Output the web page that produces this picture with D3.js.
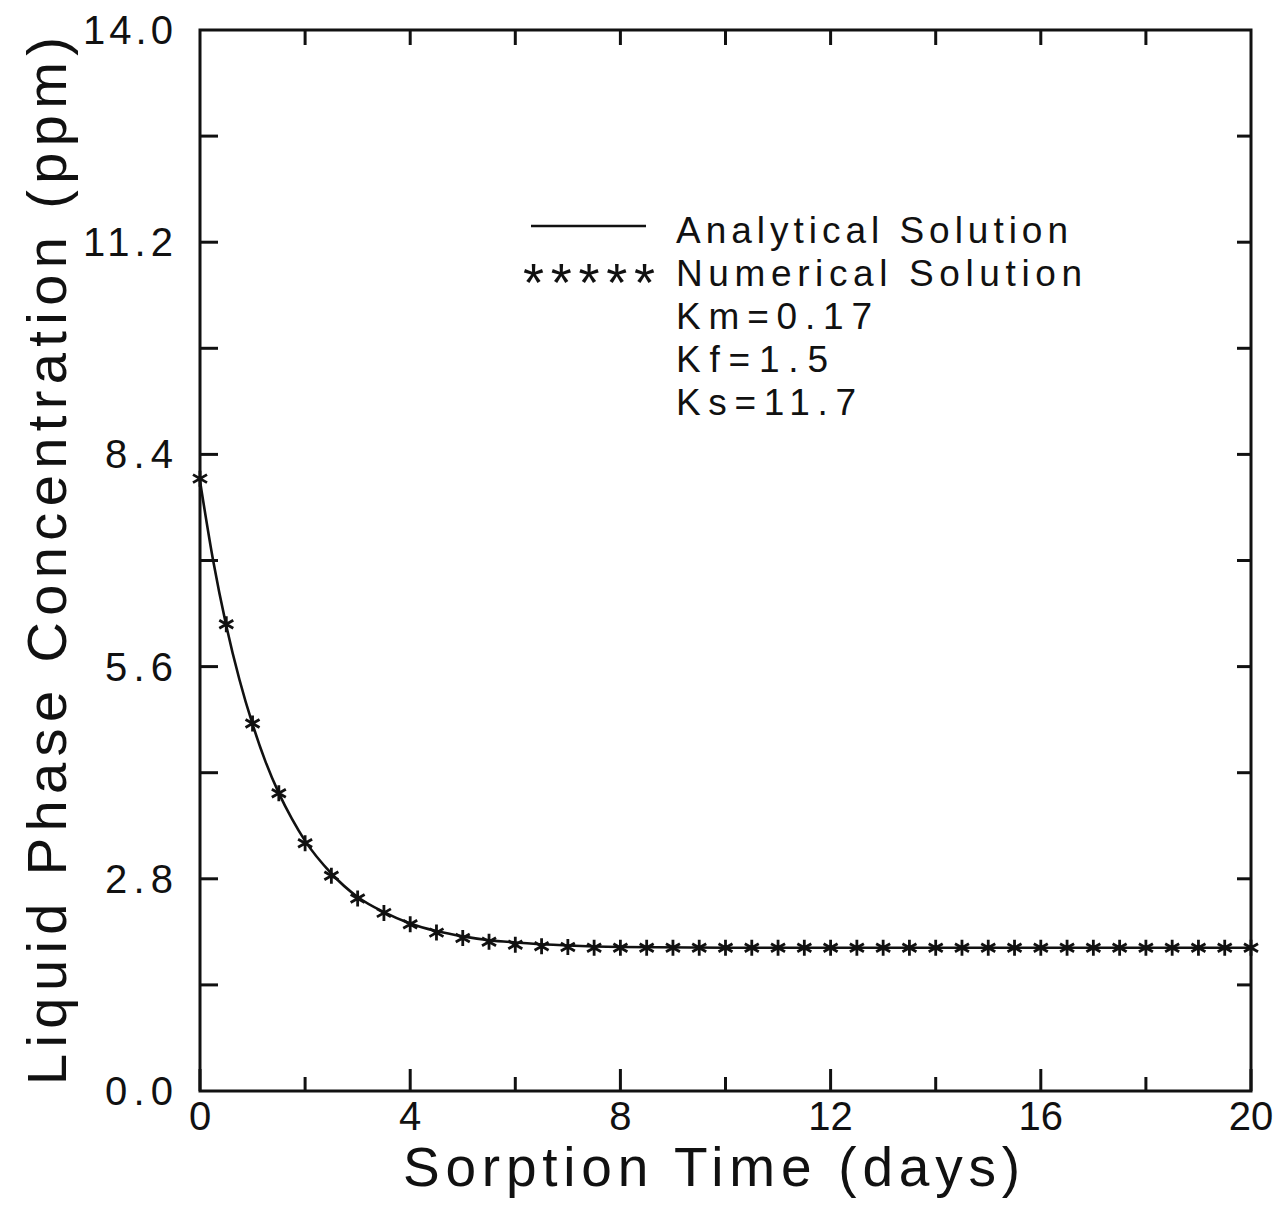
<!DOCTYPE html>
<html><head><meta charset="utf-8">
<script src="https://cdn.jsdelivr.net/npm/d3@7"></script>
<style>body{margin:0;background:#fff}svg{display:block}text{font-family:"Liberation Sans",Arial,sans-serif;fill:#111}</style>
</head><body>
<svg id="c" width="1279" height="1211"></svg>
<script>
// Analytical solution (line)
const analyticT = [0,0.25,0.5,0.75,1,1.25,1.5,1.75,2,2.5,3,3.5,4,4.5,5,5.5,6,7,8,10,14,20];
const analyticC = [8.05,7.00,6.14,5.43,4.84,4.34,3.93,3.59,3.30,2.87,2.56,2.36,2.21,2.11,2.04,1.99,1.96,1.92,1.90,1.89,1.89,1.89];
// Numerical solution (asterisks), every 0.5 day
const numT = [0,0.5,1,1.5,2,2.5,3,3.5,4,4.5,5,5.5,6,6.5,7,7.5,8,8.5,9,9.5,10,10.5,11,11.5,12,12.5,13,13.5,14,14.5,15,15.5,16,16.5,17,17.5,18,18.5,19,19.5,20];
const numC = [8.08,6.16,4.85,3.93,3.27,2.84,2.54,2.35,2.20,2.09,2.02,1.97,1.93,1.91,1.90,1.89,1.89,1.89,1.89,1.89,1.89,1.89,1.89,1.89,1.89,1.89,1.89,1.89,1.89,1.89,1.89,1.89,1.89,1.89,1.89,1.89,1.89,1.89,1.89,1.89,1.89];
const xTickLabels = [0,4,8,12,16,20];
const yTickLabels = [0.0,2.8,5.6,8.4,11.2,14.0];
const xMinorTicks = [2,6,10,14,18];
const yAllTicks = [1.4,2.8,4.2,5.6,7.0,8.4,9.8,11.2,12.6];
const legendLines = ["Analytical  Solution","Numerical  Solution","Km=0.17","Kf=1.5","Ks=11.7"];

const svg = d3.select("#c");
const L=200, R=1251, T=30, B=1091;
const x = d3.scaleLinear().domain([0,20]).range([L,R]);
const y = d3.scaleLinear().domain([0,14]).range([B,T]);
const ink="#111";

// ticks
const g = svg.append("g").attr("stroke",ink).attr("stroke-width",3);
xTickLabels.forEach(v=>{ g.append("line").attr("x1",x(v)).attr("x2",x(v)).attr("y1",B).attr("y2",B-22); });
xMinorTicks.forEach(v=>{ g.append("line").attr("x1",x(v)).attr("x2",x(v)).attr("y1",B).attr("y2",B-14); });
d3.range(2,20,2).forEach(v=>{ g.append("line").attr("x1",x(v)).attr("x2",x(v)).attr("y1",T).attr("y2",T+15); });
yAllTicks.forEach(v=>{
  g.append("line").attr("x1",L).attr("x2",L+18).attr("y1",y(v)).attr("y2",y(v));
  g.append("line").attr("x1",R).attr("x2",R-14).attr("y1",y(v)).attr("y2",y(v));
});
// frame
svg.append("rect").attr("x",L).attr("y",T).attr("width",R-L).attr("height",B-T)
  .attr("fill","none").attr("stroke",ink).attr("stroke-width",3);

// tick labels
xTickLabels.forEach(v=>{
  svg.append("text").attr("x",x(v)).attr("y",1130).attr("text-anchor","middle")
    .attr("font-size",40).text(v);
});
yTickLabels.forEach(v=>{
  svg.append("text").attr("x",173).attr("y",y(v)+14).attr("text-anchor","end")
    .attr("font-size",40).attr("textLength",v>=10?90:68).attr("lengthAdjust","spacing").text(v.toFixed(1));
});

// axis titles
svg.append("text").attr("x",403).attr("y",1186).attr("font-size",55)
  .attr("textLength",617).attr("lengthAdjust","spacing").text("Sorption  Time  (days)");
svg.append("text").attr("transform","translate(66,1085) rotate(-90)").attr("font-size",56)
  .attr("textLength",1048).attr("lengthAdjust","spacing").text("Liquid  Phase  Concentration  (ppm)");

// analytical line
const line = d3.line().x((d,i)=>x(analyticT[i])).y(d=>y(d)).curve(d3.curveMonotoneX);
svg.append("path").datum(analyticC).attr("d",line).attr("fill","none")
  .attr("stroke",ink).attr("stroke-width",2.6);

// numerical asterisks
const star = "M0,-8L0,8M-7,-4L7,4M-7,4L7,-4";
svg.append("g").selectAll("path").data(numC).join("path")
  .attr("transform",(d,i)=>`translate(${x(numT[i])},${y(d)})`)
  .attr("d",star).attr("stroke",ink).attr("stroke-width",2.8).attr("fill","none");

// legend
svg.append("line").attr("x1",531).attr("x2",646).attr("y1",226).attr("y2",226)
  .attr("stroke",ink).attr("stroke-width",2.6);
svg.append("text").attr("x",523).attr("y",301).attr("font-size",54)
  .attr("textLength",132).attr("lengthAdjust","spacing").text("*****");
const lw=[392,406,196,152,180];
legendLines.forEach((t,i)=>{
  svg.append("text").attr("x",676).attr("y",243+i*43).attr("font-size",37)
    .attr("textLength",lw[i]).attr("lengthAdjust","spacing").text(t);
});
</script>
</body></html>
